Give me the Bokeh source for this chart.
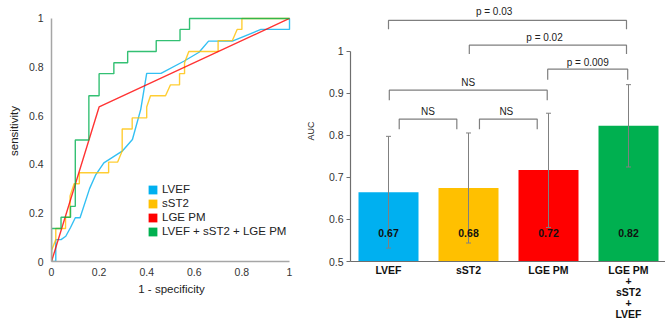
from bokeh.plotting import figure
from bokeh.layouts import row
from bokeh.models import FixedTicker, Legend, LegendItem, ColumnDataSource, Range1d
from bokeh.embed import file_html
from bokeh.resources import INLINE
from bokeh.core.properties import value

FONT = "Liberation Sans"
NAN = float("nan")

# ---------------- ROC curves (1 - specificity, sensitivity) ----------------
lvef_fpr = [0, 0.018, 0.018, 0.04, 0.06, 0.08, 0.10, 0.12, 0.16, 0.185, 0.22, 0.297, 0.34,
            0.375, 0.40, 0.46, 0.556, 0.62, 0.66, 0.76, 0.88, 1.0, 1.0]
lvef_tpr = [0, 0, 0.09, 0.09, 0.104, 0.14, 0.18, 0.18, 0.30, 0.355, 0.406, 0.454, 0.502,
            0.626, 0.774, 0.774, 0.824, 0.861, 0.907, 0.907, 0.955, 0.955, 1.0]

sst2_fpr = [0, 0, 0.018, 0.018, 0.059, 0.059, 0.078, 0.078, 0.095, 0.117, 0.117, 0.24, 0.24,
            0.278, 0.297, 0.297, 0.339, 0.339, 0.40, 0.40, 0.416, 0.479, 0.50, 0.538, 0.538,
            0.559, 0.559, 0.577, 0.70, 0.70, 0.76, 0.78, 0.80, 0.80, 1.0]
sst2_tpr = [0, 0.045, 0.09, 0.136, 0.136, 0.182, 0.182, 0.27, 0.32, 0.32, 0.365, 0.365, 0.409,
            0.409, 0.455, 0.545, 0.545, 0.591, 0.591, 0.636, 0.682, 0.682, 0.727, 0.727, 0.773,
            0.773, 0.818, 0.864, 0.864, 0.909, 0.909, 0.955, 0.955, 1.0, 1.0]

lge_fpr = [0, 0.2, 1.0]
lge_tpr = [0, 0.636, 1.0]

comb_fpr = [0, 0, 0.04, 0.04, 0.08, 0.08, 0.10, 0.10, 0.157, 0.157, 0.20, 0.20, 0.262, 0.262,
            0.32, 0.32, 0.44, 0.44, 0.54, 0.54, 0.58, 0.58, 1.0]
comb_tpr = [0, 0.136, 0.136, 0.182, 0.182, 0.227, 0.227, 0.50, 0.50, 0.682, 0.682, 0.773, 0.773,
            0.818, 0.818, 0.864, 0.864, 0.909, 0.909, 0.955, 0.955, 1.0, 1.0]

roc_names = ["LVEF", "sST2", "LGE PM", "LVEF + sST2 + LGE PM"]
roc_colors = ["#00B0F0", "#FFC000", "#FF0000", "#00B050"]
roc_ticks = [0, 0.2, 0.4, 0.6, 0.8, 1]
roc_tick_labels = ["0", "0.2", "0.4", "0.6", "0.8", "1"]

# ---------------- AUC bars ----------------
categories = ["LVEF", "sST2", "LGE PM", "LGE PM\n+\nsST2\n+\nLVEF"]
auc = [0.665, 0.675, 0.718, 0.823]
auc_labels = ["0.67", "0.68", "0.72", "0.82"]
ci_low = [0.532, 0.544, 0.581, 0.725]
ci_high = [0.798, 0.806, 0.853, 0.921]
bar_colors = ["#00B0F0", "#FFC000", "#FF0000", "#00B050"]
auc_ticks = [0.5, 0.6, 0.7, 0.8, 0.9, 1.0]
auc_tick_labels = ["0.5", "0.6", "0.7", "0.8", "0.9", "1"]

# significance brackets (in category index units / AUC units)
br_x0 = [0.0, 1.01, 1.99, 0.01, 0.134, 1.137]
br_x1 = [2.975, 2.975, 2.99, 1.984, 0.854, 1.859]
br_y = [1.074, 1.015, 0.958, 0.908, 0.839, 0.839]
br_tip = [1.053, 0.994, 0.933, 0.884, 0.815, 0.815]
br_text = ["p = 0.03", "p = 0.02", "p = 0.009", "NS", "NS", "NS"]
br_text_x = [1.32, 1.95, 2.49, 0.997, 0.494, 1.473]
br_text_y = [1.095, 1.033, 0.974, 0.926, 0.857, 0.857]

TEXT_DARK = "#333333"

# ======================= LEFT: ROC =======================
left = figure(width=298, height=323, output_backend="svg", toolbar_location=None,
              x_range=Range1d(0, 1.0084), y_range=Range1d(0, 1.074),
              min_border_left=51, min_border_right=7, min_border_top=0, min_border_bottom=62,
              x_axis_label="1 - specificity", y_axis_label="sensitivity")
left.outline_line_color = None
left.grid.visible = False

for ax in (left.xaxis[0], left.yaxis[0]):
    ax.ticker = FixedTicker(ticks=roc_ticks)
    ax.major_label_overrides = {t: l for t, l in zip(roc_ticks, roc_tick_labels)}
    ax.bounds = (0, 1)
    ax.axis_line_color = "#A6A6A6"
    ax.axis_line_width = 1.5
    ax.major_tick_line_color = None
    ax.minor_tick_line_color = None
    ax.major_tick_out = 0
    ax.major_tick_in = 0
    ax.major_label_text_font = FONT
    ax.major_label_text_font_size = "10.5px"
    ax.major_label_text_color = TEXT_DARK
    ax.axis_label_text_font = FONT
    ax.axis_label_text_font_style = "normal"
    ax.axis_label_text_font_size = "11.5px"
    ax.axis_label_text_color = "#222222"
left.xaxis.major_label_standoff = 6
left.xaxis.axis_label_standoff = 4
left.yaxis.major_label_standoff = 8
left.yaxis.axis_label_standoff = 6

for fpr, tpr, color in zip([lvef_fpr, sst2_fpr, lge_fpr, comb_fpr],
                           [lvef_tpr, sst2_tpr, lge_tpr, comb_tpr], roc_colors):
    left.line(fpr, tpr, line_color=color, line_width=1.4, line_alpha=0.8)

items = []
for name, color in zip(roc_names, roc_colors):
    r = left.quad(left=[NAN], right=[NAN], top=[NAN], bottom=[NAN],
                  fill_color=color, line_color=None)
    items.append(LegendItem(label=name, renderers=[r]))
legend = Legend(items=items, location=(96, 24), padding=0, margin=0, spacing=2,
                glyph_width=11, glyph_height=11, label_height=11, label_standoff=4,
                border_line_color=None, background_fill_alpha=0,
                label_text_font=FONT, label_text_font_size="11.5px", label_text_color="#222222")
left.add_layout(legend)

# ======================= RIGHT: AUC bars =======================
xpos = list(range(len(categories)))
right = figure(width=367, height=323, output_backend="svg", toolbar_location=None,
               x_range=Range1d(-0.475, 3.4625), y_range=Range1d(0.5, 1.1214),
               min_border_left=52, min_border_right=0, min_border_top=0, min_border_bottom=62,
               y_axis_label="AUC")
right.outline_line_color = None
right.grid.visible = False

ya = right.yaxis[0]
ya.ticker = FixedTicker(ticks=auc_ticks)
ya.major_label_overrides = {t: l for t, l in zip(auc_ticks, auc_tick_labels)}
ya.bounds = (0.5, 1.0)
xa = right.xaxis[0]
xa.ticker = FixedTicker(ticks=xpos)
xa.major_label_overrides = {i: c for i, c in zip(xpos, categories)}
for ax in (xa, ya):
    ax.axis_line_color = "#6E6E6E"
    ax.axis_line_width = 1.2
    ax.major_tick_line_color = "#6E6E6E"
    ax.minor_tick_line_color = None
    ax.major_label_text_font = FONT
    ax.major_label_text_color = TEXT_DARK
    ax.axis_label_text_font = FONT
    ax.axis_label_text_font_style = "normal"
    ax.axis_label_text_font_size = "9px"
    ax.axis_label_text_color = "#222222"
ya.major_tick_out = 4
ya.major_tick_in = 0
ya.major_label_standoff = 3
ya.major_label_text_font_size = "10.5px"
ya.axis_label_standoff = 10
xa.major_tick_out = 0
xa.major_tick_in = 0
xa.major_label_standoff = 2
xa.major_label_text_font_size = "10.5px"
xa.major_label_text_font_style = "bold"
xa.major_label_text_color = "#111111"
xa.major_label_text_line_height = 0.92

src = ColumnDataSource(dict(x=xpos, top=auc, color=bar_colors, lab=auc_labels,
                            lo=ci_low, hi=ci_high))
right.vbar(x="x", top="top", bottom=0.5, width=0.75, fill_color="color", line_color=None,
           source=src)
right.segment(x0="x", y0="lo", x1="x", y1="hi", line_color="#808080", line_width=1, source=src)
right.scatter(x="x", y="lo", marker="dash", size=5, line_color="#808080", line_width=1, source=src)
right.scatter(x="x", y="hi", marker="dash", size=5, line_color="#808080", line_width=1, source=src)
right.text(x="x", y=0.568, text="lab", text_align="center", text_baseline="middle",
           text_font=value(FONT), text_font_style="bold", text_font_size="10.5px",
           text_color="#111111", source=src)

bsrc = ColumnDataSource(dict(
    xs=[[a, a, b, b] for a, b in zip(br_x0, br_x1)],
    ys=[[t, y, y, t] for y, t in zip(br_y, br_tip)],
))
right.multi_line(xs="xs", ys="ys", line_color="#7F7F7F", line_width=1.2, source=bsrc)
tsrc = ColumnDataSource(dict(x=br_text_x, y=br_text_y, t=br_text))
right.text(x="x", y="y", text="t", text_align="center", text_baseline="middle",
           text_font=value(FONT), text_font_size="10px", text_color="#222222", source=tsrc)

p = row(left, right)
open("out.html", "w").write(file_html(p, INLINE))
